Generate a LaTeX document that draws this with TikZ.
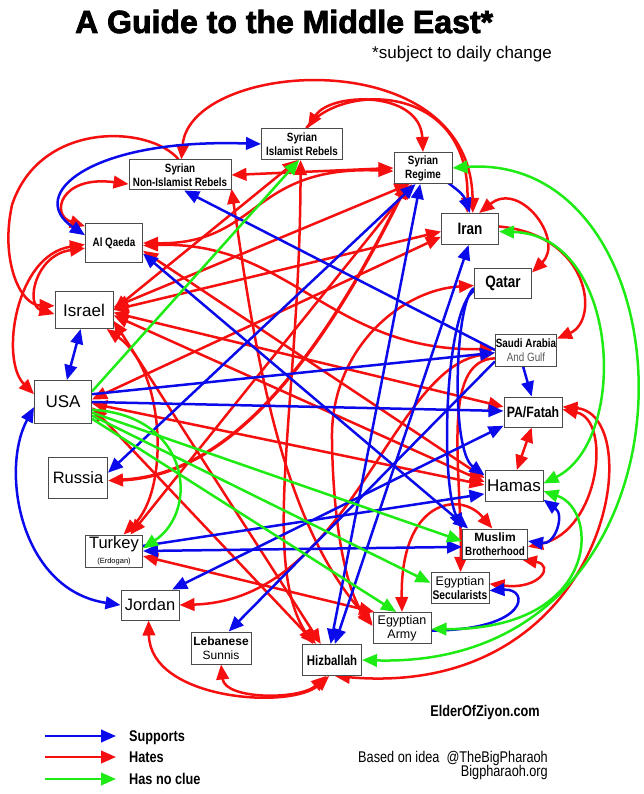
\documentclass[tikz,border=0pt]{standalone}
\usepackage{fontspec}
\setmainfont{Liberation Sans}
\newfontfamily\cnd[FakeStretch=0.82]{Liberation Sans}
\newfontfamily\ttlfont[BoldFeatures={FakeBold=2.5}]{Liberation Sans}
\usetikzlibrary{arrows.meta}
\pgfdeclarelayer{bg}
\pgfsetlayers{bg,main}
\definecolor{cr}{RGB}{245,15,15}
\definecolor{cb}{RGB}{10,10,235}
\definecolor{cg}{RGB}{30,235,20}
\definecolor{bx}{RGB}{75,75,75}
\definecolor{txtgray}{RGB}{90,90,90}
\newcommand{\lblsmall}{\cnd\bfseries\fontsize{12}{14}\selectfont}
\newcommand{\lblbig}{\fontsize{17}{19}\selectfont}
\newcommand{\lblmid}{\fontsize{16.5}{18}\selectfont}
\newcommand{\lblbold}[1]{\cnd\bfseries\fontsize{#1}{#1}\selectfont}
\begin{document}
\begin{tikzpicture}[x=1pt,y=-1pt,
  >={Triangle[length=15pt,width=12.5pt]},
  supportline/.style={draw=cb,line width=2.5pt},
  hateline/.style={draw=cr,line width=2.5pt},
  clueline/.style={draw=cg,line width=2.5pt},
  box/.style={draw=bx,line width=1pt,fill=white,inner sep=0pt,align=center}]
\useasboundingbox (0,0) rectangle (644,794);

% titles
\node[anchor=base west,inner sep=0pt,font=\ttlfont\bfseries\fontsize{32}{34}\selectfont] (title) at (75,33) {A Guide to the Middle East*};
\node[anchor=base east,inner sep=0pt,font=\fontsize{17}{19}\selectfont] (sub) at (552,59) {*subject to daily change};

% actors
\node[box,minimum width=81pt,minimum height=31pt,font=\lblsmall] (sir) at (302,144) {Syrian\\Islamist Rebels};
\node[box,minimum width=102pt,minimum height=30pt,font=\lblsmall] (snr) at (180,175) {Syrian\\Non-Islamist Rebels};
\node[box,minimum width=58pt,minimum height=31pt,font=\lblsmall] (sre) at (423,168) {Syrian\\Regime};
\node[box,minimum width=57pt,minimum height=38pt,font=\lblsmall] (aq) at (114,243) {Al Qaeda};
\node[box,minimum width=57pt,minimum height=31pt,font=\lblbold{16.5}] (iran) at (470,229) {Iran};
\node[box,minimum width=57pt,minimum height=30pt,font=\lblbold{16.5}] (qat) at (503,283) {Qatar};
\node[box,minimum width=58pt,minimum height=37pt,font=\lblbig] (isr) at (84,310) {Israel};
\node[box,minimum width=61pt,minimum height=32pt,font=\cnd\fontsize{12}{13.5}\selectfont] (sau) at (526,350) {{\bfseries Saudi Arabia}\\{\color{txtgray}And Gulf}};
\node[box,minimum width=57pt,minimum height=43pt,font=\lblbig] (usa) at (63,402) {USA};
\node[box,minimum width=58pt,minimum height=30pt,font=\lblbold{15}] (pa) at (533,412) {PA/Fatah};
\node[box,minimum width=58pt,minimum height=31pt,font=\lblbig] (ham) at (514,486) {Hamas};
\node[box,minimum width=59pt,minimum height=41pt,font=\lblmid] (rus) at (78,478) {Russia};
\node[box,minimum width=57pt,minimum height=32pt,font=\lblmid] (tur) at (114,551) {Turkey\\[-3pt]{\fontsize{7.5}{8}\selectfont (Erdogan)}};
\node[box,minimum width=65pt,minimum height=30pt,font=\lblsmall] (mb) at (495,544) {{\rmfamily\bfseries Muslim}\\Brotherhood};
\node[box,minimum width=58pt,minimum height=30pt,font=\lblmid] (jor) at (150,605) {Jordan};
\node[box,minimum width=58pt,minimum height=31pt,font=\fontsize{12.5}{14}\selectfont] (esec) at (460,588) {Egyptian\\{\cnd\bfseries Secularists}};
\node[box,minimum width=58pt,minimum height=31pt,font=\fontsize{12.5}{14}\selectfont] (earm) at (402,628) {Egyptian\\Army};
\node[box,minimum width=60pt,minimum height=32pt,font=\fontsize{12}{14}\selectfont] (leb) at (221,648) {{\bfseries Lebanese}\\Sunnis};
\node[box,minimum width=59pt,minimum height=31pt,font=\lblbold{14}] (hiz) at (332,660) {Hizballah};

\begin{pgfonlayer}{bg}
\fill[white] (0,0) rectangle (644,794);
% ---------- hates (red)
\draw[hateline,<->] (snr.85) .. controls (190,60) and (470,40) .. (iran.80);
\draw[hateline,<->] (sir.70) .. controls (330,92) and (420,90) .. (sre.north);
\draw[hateline,->] (sir.75) .. controls (340,82) and (470,82) .. (iran.100);
\draw[hateline,<->] (iran.60) .. controls (520,180) and (565,240) .. (qat.20);
\draw[hateline,->] (iran.5) .. controls (590,235) and (600,320) .. (sau.20);
\draw[hateline,<->] (snr.east) -- (sre.180);
\draw[hateline,<->] (snr.190) .. controls (60,175) and (50,215) .. (aq.150);
\draw[hateline,->] (snr.95) .. controls (150,125) and (40,120) .. (12,205) .. controls (0,260) and (20,305) .. (isr.172);
\draw[hateline,<->] (aq.190) .. controls (35,255) and (25,305) .. (isr.188);
\draw[hateline,<->] (aq.183) .. controls (15,255) and (0,360) .. (usa.165);
\draw[hateline,<->] (aq.east) .. controls (260,245) and (250,165) .. (sre.186);
\draw[hateline,<->] (aq.-5) .. controls (290,240) and (330,352) .. (sau.178);
\draw[hateline,<->] (aq.-15) -- (ham.165);
\draw[hateline,<->] (isr.east) -- (sir.-105);
\draw[hateline,<->] (isr.5) -- (sre.-130);
\draw[hateline,<->] (isr.0) -- (iran.185);
\draw[hateline,<->] (isr.-5) -- (pa.170);
\draw[hateline,<->] (isr.-10) -- (ham.172);
\draw[hateline,<->] (isr.-20) -- (hiz.125);
\draw[hateline,<->] (isr.-40) .. controls (165,370) and (170,490) .. (tur.60);
\draw[hateline,<->] (usa.5) -- (iran.195);
\draw[hateline,<->] (usa.-3) -- (ham.178);
\draw[hateline,<->] (usa.-10) -- (hiz.135);
\draw[hateline,<->] (tur.-10) -- (earm.150);
\draw[hateline,<->] (tur.45) -- (sre.-125);
\draw[hateline,<->,line width=3.3pt] (rus.-5) .. controls (230,475) and (320,360) .. (sre.-135);
\draw[hateline,<->] (jor.east) .. controls (350,600) and (390,370) .. (sau.185);
\draw[hateline,<->] (sir.-95) .. controls (300,400) and (260,560) .. (hiz.140);
\draw[hateline,<->] (snr.-15) .. controls (255,350) and (280,520) .. (earm.172);
\draw[hateline,<->] (qat.185) .. controls (400,290) and (330,350) .. (332,440) .. controls (333,520) and (345,590) .. (earm.176);
\draw[hateline,<->] (mb.100) .. controls (460,490) and (400,500) .. (earm.90);
\draw[hateline,->] (sau.195) .. controls (440,360) and (462,470) .. (esec.88);
\draw[hateline,<->] (pa.-95) -- (ham.80);
\draw[hateline,<->] (pa.5) .. controls (612,420) and (600,530) .. (mb.-5);
\draw[hateline,<->] (pa.10) .. controls (650,415) and (610,700) .. (hiz.-80);
\draw[hateline,<->] (mb.-30) .. controls (555,565) and (540,590) .. (esec.8);
\draw[hateline,<->] (hiz.-100) .. controls (290,710) and (150,700) .. (jor.-95);
\draw[hateline,<->] (hiz.-110) .. controls (300,700) and (225,700) .. (leb.-90);

% ---------- supports (blue)
\draw[supportline,<->] (sre.-60) .. controls (440,180) and (462,190) .. (iran.north);
\draw[supportline,->] (sau.west) -- (snr.-75);
\draw[supportline,<->] (sir.west) .. controls (90,138) and (25,195) .. (aq.165);
\draw[supportline,<->] (isr.-100) -- (usa.80);
\draw[supportline,<->] (usa.190) .. controls (0,470) and (20,590) .. (jor.west);
\draw[supportline,<->] (aq.-20) -- (mb.150);
\draw[supportline,->] (usa.15) -- (sau.185);
\draw[supportline,->] (usa.east) -- (pa.178);
\draw[supportline,<->] (jor.35) -- (pa.205);
\draw[supportline,<->] (rus.10) -- (sre.-115);
\draw[supportline,<->] (hiz.80) -- (iran.-95);
\draw[supportline,<->] (hiz.95) -- (sre.-100);
\draw[supportline,->] (qat.190) .. controls (455,300) and (450,450) .. (ham.160);
\draw[supportline,->] (qat.195) .. controls (445,310) and (440,480) .. (mb.155);
\draw[supportline,->] (tur.10) -- (ham.195);
\draw[supportline,<->] (tur.east) -- (mb.185);
\draw[supportline,<->] (ham.-25) .. controls (565,515) and (555,545) .. (mb.5);
\draw[supportline,->] (earm.-5) .. controls (530,630) and (530,588) .. (esec.-5);
\draw[supportline,->] (sau.-100) -- (pa.95);
\draw[supportline,->] (sau.200) -- (leb.65);

% ---------- has no clue (green)
\draw[clueline,->] (usa.20) -- (sir.-100);
\draw[clueline,->] (usa.-15) .. controls (190,415) and (200,510) .. (tur.5);
\draw[clueline,->] (usa.-20) -- (mb.175);
\draw[clueline,->] (usa.-25) -- (esec.170);
\draw[clueline,->] (usa.-30) -- (earm.110);
\draw[clueline,<->] (iran.-5) .. controls (620,235) and (630,440) .. (ham.5);
\draw[clueline,<->] (sre.east) .. controls (700,150) and (720,670) .. (hiz.east);
\draw[clueline,<->] (ham.-10) .. controls (600,510) and (600,630) .. (earm.-2);
\end{pgfonlayer}

% footer
\node[anchor=base,inner sep=0pt,font=\lblbold{15.5}] (eoz) at (485,716) {ElderOfZiyon.com};
\coordinate (l1a) at (45,736); \coordinate (l1b) at (116,736);
\coordinate (l2a) at (45,757); \coordinate (l2b) at (116,757);
\coordinate (l3a) at (45,779); \coordinate (l3b) at (116,779);
\draw[supportline,->] (l1a) -- (l1b);
\draw[hateline,->] (l2a) -- (l2b);
\draw[clueline,->] (l3a) -- (l3b);
\node[anchor=base west,inner sep=0pt,font=\lblbold{15.5}] (lg1) at (129,741) {Supports};
\node[anchor=base west,inner sep=0pt,font=\lblbold{15.5}] (lg2) at (129,762) {Hates};
\node[anchor=base west,inner sep=0pt,font=\lblbold{15.5}] (lg3) at (129,784) {Has no clue};
\node[anchor=base east,inner sep=0pt,font=\cnd\fontsize{15.5}{17}\selectfont] (idea) at (548,762) {Based on idea\ \ @TheBigPharaoh};
\node[anchor=base east,inner sep=0pt,font=\cnd\fontsize{15.5}{17}\selectfont] (bp) at (548,776) {Bigpharaoh.org};
\end{tikzpicture}
\end{document}
